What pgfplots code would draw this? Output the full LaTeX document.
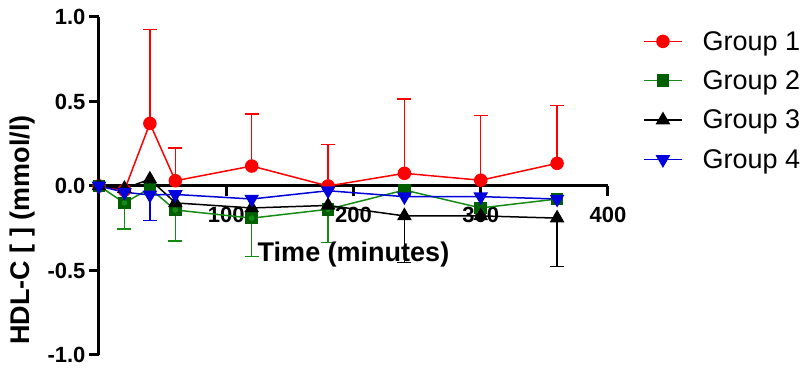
\documentclass[border=0pt]{standalone}
\usepackage{pgfplots}
\pgfplotsset{compat=1.18}
\usepackage{fontspec}
\setmainfont{Liberation Sans}

\definecolor{gOne}{RGB}{255,0,0}
\definecolor{gTwoLine}{RGB}{20,140,20}
\definecolor{gTwoMark}{RGB}{0,95,0}
\definecolor{gThree}{RGB}{0,0,0}
\definecolor{gFour}{RGB}{0,0,220}

\pgfplotsset{
  errstyle/.style={error bar style={line width=1.5pt, #1},
    error mark options={#1, line width=1.5pt, mark size=7pt, rotate=90}},
}

\begin{document}
\begin{tikzpicture}
\begin{axis}[
  name=ax,
  scale only axis, width=509pt, height=338pt,
  xmin=0, xmax=400, ymin=-1, ymax=1,
  clip=false,
  axis x line=middle, axis y line=left,
  axis line style={line width=3pt, -},
  xtick={100,200,300,400}, ytick={-1,-0.5,0,0.5,1},
  tick align=outside, major tick length=10pt,
  tick style={line width=3pt, black},
  minor tick num=0,
  /pgf/number format/assume math mode=true,
  yticklabel style={/pgf/number format/.cd, fixed, fixed zerofill, precision=1},
  xticklabel style={yshift=-8pt},
  tick label style={font=\fontsize{22}{24}\selectfont\bfseries},
  xlabel={Time (minutes)},
  xlabel style={font=\fontsize{27}{29}\selectfont\bfseries, at={(axis description cs:0.5,0.296)}, anchor=center},
  ylabel={HDL-C [ ] (mmol/l)},
  ylabel style={font=\fontsize{27}{29}\selectfont\bfseries, at={(axis description cs:-0.151,0.37)}, anchor=center},
  legend style={draw=none, fill=none, at={(axis description cs:1,1)}, anchor=north west,
    xshift=35pt, yshift=-12pt, font=\fontsize{27}{30}\selectfont, row sep=15pt, inner sep=0pt,
    /tikz/every odd column/.append style={column sep=18pt}},
  legend cell align=left,
  legend image code/.code={\draw[mark repeat=2,mark phase=2,#1] plot coordinates {(0pt,0pt) (19pt,0pt) (38pt,0pt)};},
]
% Group 1
\addplot[gOne, line width=1.5pt, mark=*, mark size=6pt, mark options={solid, fill=gOne, draw=gOne}]
  coordinates {(0,0) (20,-0.025) (40,0.37) (60,0.031) (120,0.118) (180,0) (240,0.075) (300,0.034) (360,0.134)};
\addlegendentry{Group 1}
\addplot[gOne, line width=1.5pt, only marks, mark=none, forget plot,
  error bars/.cd, y dir=plus, y explicit, /pgfplots/errstyle=gOne]
  coordinates {(40,0.37) +- (0,0.556) (60,0.031) +- (0,0.194) (120,0.118) +- (0,0.308)
               (180,0) +- (0,0.245) (240,0.075) +- (0,0.44) (300,0.034) +- (0,0.382) (360,0.134) +- (0,0.341)};
% Group 2
\addplot[gTwoLine, line width=1.5pt, mark=square*, mark size=5.5pt, mark options={solid, fill=gTwoMark, draw=gTwoMark}]
  coordinates {(0,0) (20,-0.10) (40,-0.014) (60,-0.142) (120,-0.19) (180,-0.138) (240,-0.024) (300,-0.13) (360,-0.077)};
\addlegendentry{Group 2}
\addplot[gTwoLine, line width=1.5pt, only marks, mark=none, forget plot,
  error bars/.cd, y dir=minus, y explicit, /pgfplots/errstyle=gTwoLine]
  coordinates {(20,-0.10) +- (0,0.155) (60,-0.142) +- (0,0.183) (120,-0.19) +- (0,0.228) (180,-0.138) +- (0,0.197)};
% Group 3
\addplot[gThree, line width=1.5pt, mark=triangle*, mark size=7pt, mark options={solid, fill=gThree, draw=gThree}]
  coordinates {(0,0) (20,-0.015) (40,0.04) (60,-0.10) (120,-0.13) (180,-0.115) (240,-0.177) (300,-0.177) (360,-0.19)};
\addlegendentry{Group 3}
\addplot[gThree, line width=1.5pt, only marks, mark=none, forget plot,
  error bars/.cd, y dir=minus, y explicit, /pgfplots/errstyle=gThree]
  coordinates {(240,-0.177) +- (0,0.277) (360,-0.19) +- (0,0.287)};
% Group 4
\addplot[gFour, line width=1.5pt, mark=triangle*, mark size=7pt, mark options={solid, fill=gFour, draw=gFour, rotate=180}]
  coordinates {(0,0) (20,-0.037) (40,-0.053) (60,-0.05) (120,-0.077) (180,-0.028) (240,-0.063) (300,-0.063) (360,-0.077)};
\addlegendentry{Group 4}
\addplot[gFour, line width=1.5pt, only marks, mark=none, forget plot,
  error bars/.cd, y dir=minus, y explicit, /pgfplots/errstyle=gFour]
  coordinates {(40,-0.053) +- (0,0.152)};
\end{axis}
\pgfresetboundingbox
\path[use as bounding box] ([xshift=-99pt,yshift=-16pt]ax.south west) rectangle ++(804pt,371pt);
\end{tikzpicture}
\end{document}
